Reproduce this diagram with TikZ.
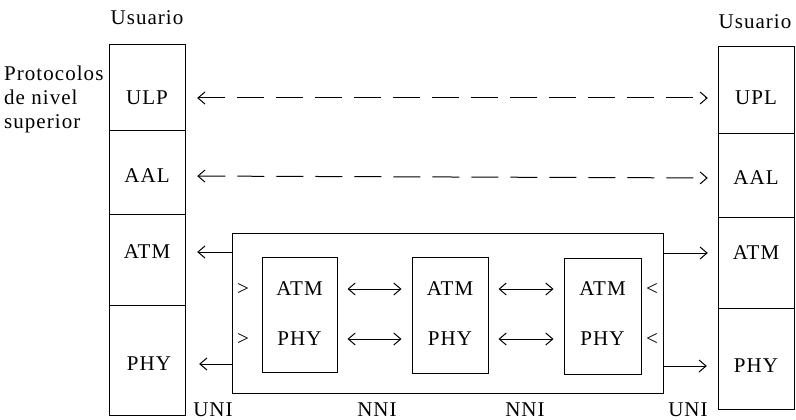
\documentclass[tikz,border=0pt]{standalone}
\usepackage{fontspec}
\setmainfont{Liberation Serif}[LetterSpace=5]
\usetikzlibrary{arrows.meta}
\begin{document}
\begin{tikzpicture}[x=1pt,y=-1pt,
  cell/.style={draw, line width=1pt, minimum width=76pt, inner sep=0pt},
  lbl/.style={font=\fontsize{21}{24}\selectfont, inner sep=0pt},
  slot/.style={lbl, minimum width=76pt},
  both/.style={line width=1pt, {Straight Barb[length=7pt,width=12pt]}-{Straight Barb[length=7pt,width=12pt]}},
  one/.style={line width=1pt, -{Straight Barb[length=7pt,width=12pt]}},
  peer/.style={both, dash pattern=on 27pt off 12pt}
]
\useasboundingbox (0,0) rectangle (796,420);

% user stack, left
\node[cell, minimum height=85pt]  (l1) at (147,87.5)  {};
\node[cell, minimum height=84pt]  (l2) at (147,172)   {};
\node[cell, minimum height=91pt]  (l3) at (147,259.5) {};
\node[cell, minimum height=110pt] (l4) at (147,360)   {};
\node[slot] (lulp) at (147,98)  {ULP};
\node[slot] (laal) at (147,176) {AAL};
\node[slot] (latm) at (147,252) {ATM};
\node[slot] (lphy) at (149,364) {PHY};
\node[lbl] (luser) at (147,18) {Usuario};
\node[lbl, align=left, anchor=north west] (proto) at (4,66)
  {Protocolos\\de nivel\\superior};

% user stack, right
\node[cell, minimum height=86pt]  (r1) at (756,90)    {};
\node[cell, minimum height=84pt]  (r2) at (756,175)   {};
\node[cell, minimum height=91pt]  (r3) at (756,262.5) {};
\node[cell, minimum height=101pt] (r4) at (756,358.5) {};
\node[slot] (rupl) at (756,98)  {UPL};
\node[slot] (raal) at (756,178) {AAL};
\node[slot] (ratm) at (756,253) {ATM};
\node[slot] (rphy) at (756,366) {PHY};
\node[lbl] (ruser) at (755,22) {Usuario};

% network cloud with three switches
\node[cell, minimum width=431pt, minimum height=160pt] (net) at (447.5,313) {};
\node[cell, minimum width=75pt, minimum height=115pt] (s1) at (299.5,314.5) {};
\node[cell, minimum width=76pt, minimum height=116pt] (s2) at (450,315)     {};
\node[cell, minimum width=77pt, minimum height=116pt] (s3) at (602.5,316)   {};
\node[lbl] (s1a) at (299.5,289) {ATM};
\node[lbl] (s1p) at (299.5,339) {PHY};
\node[lbl] (s2a) at (450,289)   {ATM};
\node[lbl] (s2p) at (450,339)   {PHY};
\node[lbl] (s3a) at (602.5,289) {ATM};
\node[lbl] (s3p) at (602.5,339) {PHY};
\node[lbl] (gin1)  at (243,289) {>};
\node[lbl] (gin2)  at (243,339) {>};
\node[lbl] (gout1) at (652,289) {<};
\node[lbl] (gout2) at (652,339) {<};

% interface names
\node[lbl] (uni1) at (213,410) {UNI};
\node[lbl] (nni1) at (377,410) {NNI};
\node[lbl] (nni2) at (525,410) {NNI};
\node[lbl] (uni2) at (688,410) {UNI};

% peer-to-peer (dashed) relations
\draw[peer, shorten <=12pt, shorten >=10pt] (lulp.east) -- (rupl.west);
\draw[peer, shorten <=12pt, shorten >=10pt] (laal.east) -- (raal.west);

% physical links out of the network
\draw[one, shorten >=12pt] (net.west |- latm) -- (latm.east);
\draw[one, shorten >=12pt] (net.west |- lphy) -- (lphy.east);
\draw[one, shorten >=10pt] (net.east |- ratm) -- (ratm.west);
\draw[one, shorten >=11pt] (net.east |- rphy) -- (rphy.west);

% links between switches
\draw[both, shorten <=10pt, shorten >=10pt] (s1.east |- s1a) -- (s2.west |- s2a);
\draw[both, shorten <=10pt, shorten >=10pt] (s1.east |- s1p) -- (s2.west |- s2p);
\draw[both, shorten <=10pt, shorten >=10pt] (s2.east |- s2a) -- (s3.west |- s3a);
\draw[both, shorten <=10pt, shorten >=10pt] (s2.east |- s2p) -- (s3.west |- s3p);
\end{tikzpicture}
\end{document}
